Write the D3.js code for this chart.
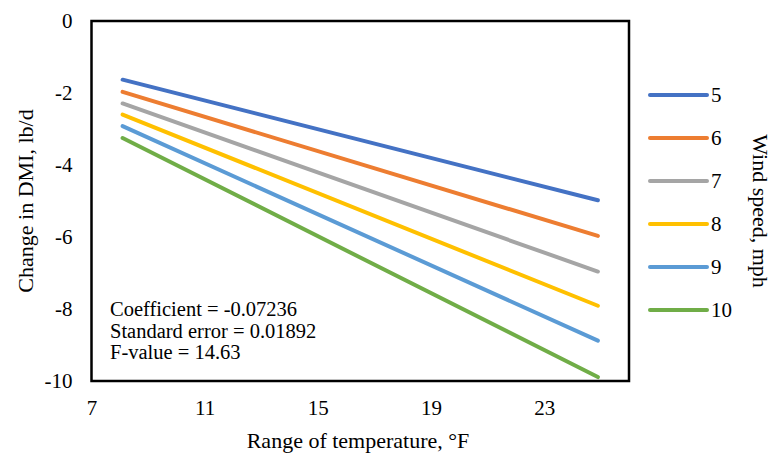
<!DOCTYPE html>
<html><head><meta charset="utf-8">
<script src="https://cdn.jsdelivr.net/npm/d3@7"></script>
<style>
body{margin:0;background:#fff;}
</style></head>
<body><svg id="c" width="773" height="455" font-family="'Liberation Serif', 'Times New Roman', Times, 'DejaVu Serif', serif"></svg>
<script>
const FONT = "'Liberation Serif', 'Times New Roman', Times, 'DejaVu Serif', serif";
const seriesNames = ["5","6","7","8","9","10"];
const seriesColors = ["#4472C4","#ED7D31","#A5A5A5","#FFC000","#5B9BD5","#70AD47"];
const xValues = [8.1, 24.9];
const startValues = [-1.63,-1.97,-2.29,-2.60,-2.92,-3.25];
const endValues = [-4.98,-5.97,-6.96,-7.91,-8.88,-9.89];
const xTicks = [7,11,15,19,23];
const yTicks = [0,-2,-4,-6,-8,-10];
const annotations = ["Coefficient = -0.07236","Standard error = 0.01892","F-value = 14.63"];

const svg = d3.select("#c");
const L=91.5, R=629, T=21, B=381;
const x = d3.scaleLinear().domain([7,26]).range([L,R]);
const y = d3.scaleLinear().domain([-10,0]).range([B,T]);

// lines
const line = d3.line().x(d=>x(d[0])).y(d=>y(d[1]));
seriesNames.forEach((s,i)=>{
  svg.append("path")
    .attr("d", line([[xValues[0],startValues[i]],[xValues[1],endValues[i]]]))
    .attr("stroke", seriesColors[i]).attr("stroke-width",4)
    .attr("stroke-linecap","round").attr("fill","none");
});

// frame
svg.append("rect").attr("x",L).attr("y",T).attr("width",R-L).attr("height",B-T)
  .attr("fill","none").attr("stroke","#000").attr("stroke-width",2.5);

function styleText(sel, size){
  return sel.style("font-family",FONT).style("font-size",size).style("fill","#000");
}

// axes (labels only)
const yAxis = d3.axisLeft(y).tickValues(yTicks).tickSize(0).tickPadding(19).tickFormat(d => String(d));
const gy = svg.append("g").attr("transform",`translate(${L},0)`).call(yAxis);
gy.attr("font-family",null).attr("font-size",null);
gy.select(".domain").remove();
styleText(gy.selectAll("text"),"21px");

const xAxis = d3.axisBottom(x).tickValues(xTicks).tickSize(0).tickPadding(19).tickFormat(d => String(d));
const gx = svg.append("g").attr("transform",`translate(0,${B})`).call(xAxis);
gx.attr("font-family",null).attr("font-size",null);
gx.select(".domain").remove();
styleText(gx.selectAll("text"),"21px");

// axis titles
styleText(svg.append("text").attr("x",358).attr("y",448).attr("text-anchor","middle"),"22px")
  .text("Range of temperature, °F");
styleText(svg.append("text").attr("transform","translate(33,201) rotate(-90)")
  .attr("text-anchor","middle"),"22px").text("Change in DMI, lb/d");

// annotations
annotations.forEach((t,i)=>{
  styleText(svg.append("text").attr("x",110).attr("y",316+i*21.5),"20.5px").text(t);
});

// legend
const legY = d3.scalePoint().domain(seriesNames).range([95,310]);
seriesNames.forEach((s,i)=>{
  const ly = legY(s);
  svg.append("line").attr("x1",650).attr("x2",707).attr("y1",ly).attr("y2",ly)
    .attr("stroke",seriesColors[i]).attr("stroke-width",4).attr("stroke-linecap","round");
  styleText(svg.append("text").attr("x",711).attr("y",ly).attr("dy","0.35em"),"21px").text(s);
});
styleText(svg.append("text").attr("transform","translate(753,211) rotate(90)")
  .attr("text-anchor","middle"),"22px").text("Wind speed, mph");
</script></body></html>
